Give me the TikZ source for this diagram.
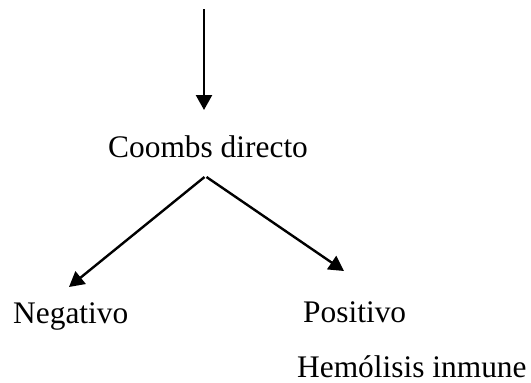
\documentclass[tikz,border=0pt]{standalone}
\usepackage{fontspec}
\setmainfont{Liberation Serif}
\usetikzlibrary{arrows.meta}
\begin{document}
\begin{tikzpicture}[x=1pt,y=-1pt,
  lbl/.style={anchor=base west,inner sep=0pt,font=\fontsize{31.4}{36}\selectfont},
  arr/.style={line width=2.4pt,-{Triangle[length=15pt,width=16pt]}}]
\useasboundingbox (0,0) rectangle (531,383);
\node[lbl] (coombs) at (108,157) {Coombs directo};
\node[lbl] (neg) at (13,323) {Negativo};
\node[lbl] (pos) at (303,322) {Positivo};
\node[lbl] (hem) at (297,377) {Hemólisis inmune};
\coordinate (top) at (204,9);
\coordinate (intop) at (204,110);
\coordinate (apexL) at (204.5,177);
\coordinate (apexR) at (206.5,177);
\coordinate (negend) at (69,287);
\coordinate (posend) at (344,271);
\draw[arr] (top) -- (intop);
\draw[arr] (apexL) -- (negend);
\draw[arr] (apexR) -- (posend);
\end{tikzpicture}
\end{document}
